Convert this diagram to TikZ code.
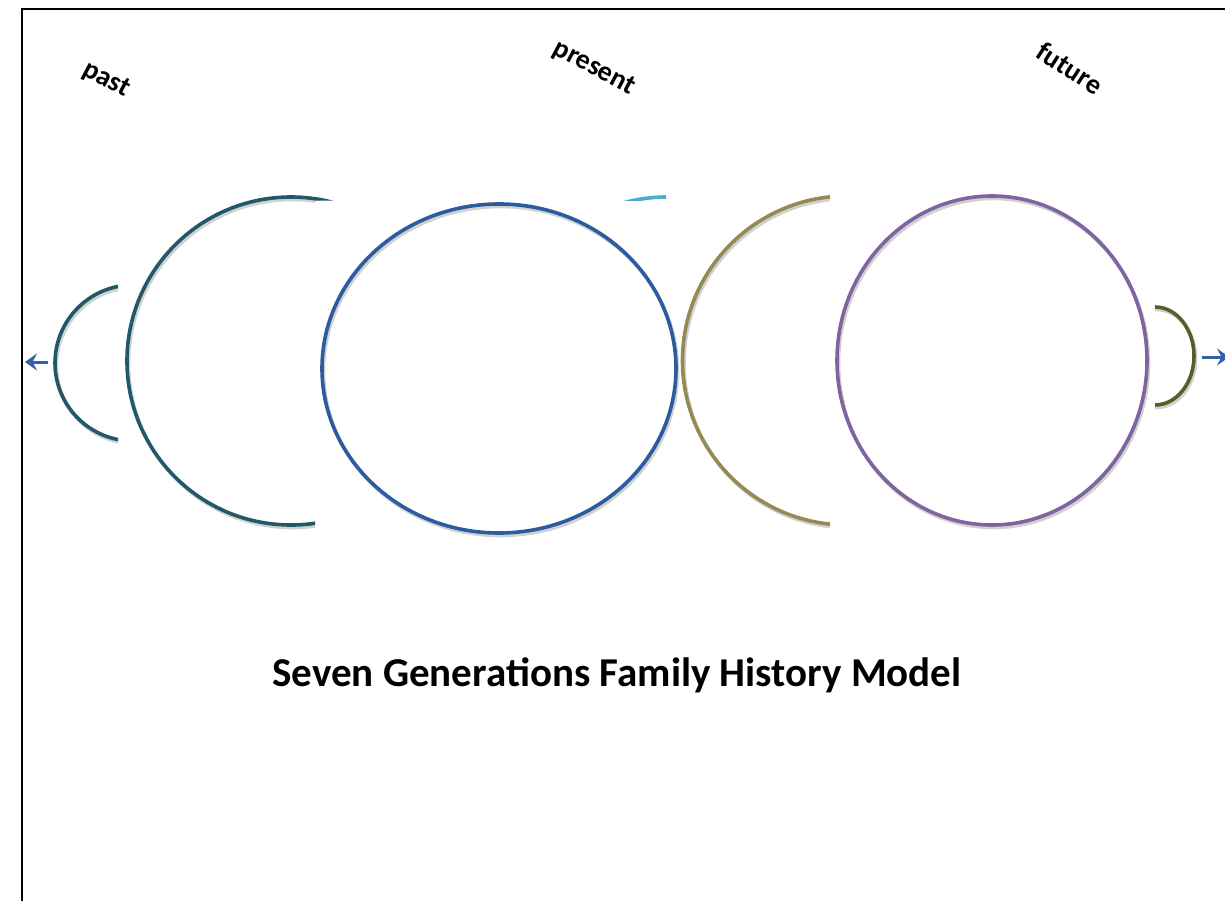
\documentclass[tikz,border=0pt]{standalone}
\usepackage{fontspec}
\setmainfont{Carlito}
\usetikzlibrary{arrows.meta}
\definecolor{tealring}{RGB}{33,89,104}
\definecolor{bluering}{RGB}{43,92,159}
\definecolor{cyanring}{RGB}{75,172,198}
\definecolor{olivering}{RGB}{148,138,84}
\definecolor{purplering}{RGB}{128,100,162}
\definecolor{greenring}{RGB}{79,98,40}
\definecolor{arrowblue}{RGB}{52,96,164}
\tikzset{
  ring/.style={line width=3.6pt},
  ringshadow/.style={line width=3.6pt, black, opacity=0.18, shift={(1.5,2.5)}},
  lbl/.style={font=\bfseries\fontsize{28}{32}\selectfont, inner sep=0pt},
  titletext/.style={font=\bfseries\fontsize{41}{47}\selectfont, inner sep=0pt, anchor=base},
  flow/.style={line width=3pt, arrowblue, -{Stealth[length=12pt,width=17pt,inset=4.5pt]}}
}
\begin{document}
\begin{tikzpicture}[x=1pt,y=-1pt]
\useasboundingbox (0,0) rectangle (1225,901);
% page frame
\draw[line width=2pt] (22,910) -- (22,9) -- (1235,9);

% small left arc
\begin{scope}
  \clip (0,0) rectangle (118,901);
  \draw[ringshadow] (133,363) circle[radius=78];
  \draw[ring, tealring] (133,363) circle[radius=78];
\end{scope}

% large left ring, partly hidden
\begin{scope}
  \clip (0,0) -- (360,0) -- (360,200.7) -- (315,200.7) -- (315,901) -- (0,901) -- cycle;
  \draw[ringshadow] (291,361) circle[radius=164];
  \draw[ring, tealring] (291,361) circle[radius=164];
\end{scope}

% light ring peeking above the centre
\begin{scope}
  \clip (560,0) rectangle (666,200.7);
  \draw[ring, cyanring] (667,361) circle[radius=164];
\end{scope}

% centre ring
\draw[ringshadow] (499,368.5) ellipse[x radius=177, y radius=164.5];
\draw[ring, bluering] (499,368.5) ellipse[x radius=177, y radius=164.5];

% olive ring, partly hidden
\begin{scope}
  \clip (600,0) rectangle (830,901);
  \draw[ringshadow] (847,360.5) circle[radius=164.5];
  \draw[ring, olivering] (847,360.5) circle[radius=164.5];
\end{scope}

% right ring
\draw[ringshadow] (992,360.5) ellipse[x radius=155, y radius=164.5];
\draw[ring, purplering] (992,360.5) ellipse[x radius=155, y radius=164.5];

% small right arc
\begin{scope}
  \clip (1155,0) rectangle (1225,901);
  \draw[ringshadow] (1155,356) ellipse[x radius=39, y radius=49];
  \draw[ring, greenring] (1155,356) ellipse[x radius=39, y radius=49];
\end{scope}

% direction arrows
\coordinate (lstart) at (48,362);
\coordinate (lend) at (25,362);
\coordinate (rstart) at (1202,357);
\coordinate (rend) at (1229,357);
\draw[flow] (lstart) -- (lend);
\draw[flow] (rstart) -- (rend);

% labels
\node[lbl, rotate=-28] (past) at (106,80) {past};
\node[lbl, rotate=-28] (present) at (594,68) {present};
\node[lbl, rotate=-33] (future) at (1070,68) {future};
\node[titletext] (title) at (617,686) {Seven Generations Family History Model};
\end{tikzpicture}
\end{document}
